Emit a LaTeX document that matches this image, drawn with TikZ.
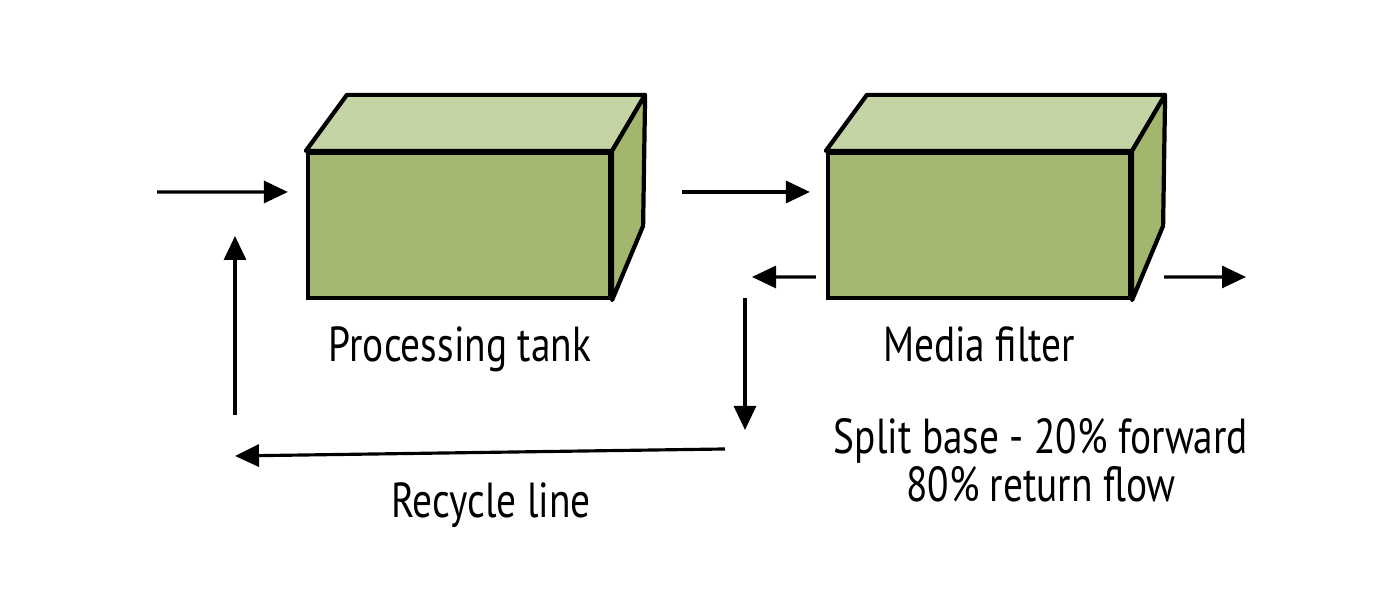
\documentclass[tikz,border=0pt]{standalone}
\usepackage{fontspec}
\setmainfont[FakeStretch=0.8]{PT Sans}
\usetikzlibrary{arrows.meta,positioning}
\definecolor{frontc}{HTML}{A4B872}
\definecolor{topc}{HTML}{C4D4A4}
\definecolor{sidec}{HTML}{A2B66E}
\tikzset{
  ar/.style={-{Triangle[length=2.4mm,width=2.2mm]},line width=0.9pt},
  tank/.style={draw,line width=1.2pt,fill=frontc,minimum width=3.02cm,minimum height=1.45cm,inner sep=0pt},
  face/.style={draw,line width=1.2pt,line join=round},
  lbl/.style={font=\fontsize{14}{12.4}\selectfont,inner sep=0pt,anchor=base}
}
\begin{document}
\begin{tikzpicture}
\useasboundingbox (0,0) rectangle (13.9,6.16);
% the two tanks, front face as node
\node[tank] (pt) at (4.59,3.905) {};
\node[tank] (mf) at (9.79,3.905) {};
\foreach \b in {pt,mf}{
  \draw[face,fill=topc] (\b.north west) -- ++(0.41,0.56) -- ([shift={(0.33,0.56)}]\b.north east) -- (\b.north east) -- cycle;
  \draw[face,fill=sidec] (\b.north east) -- ++(0.33,0.56) -- ++(-0.02,-1.31) -- (\b.south east) -- cycle;
}
% free ends of the lines
\coordinate (in) at (1.57,4.24);
\coordinate (ret) at (7.52,3.39);
\coordinate (out) at (12.46,3.39);
\coordinate (dn1) at (7.45,3.18); \coordinate (dn2) at (7.45,1.86);
\coordinate (rc1) at (7.25,1.67); \coordinate (rc2) at (2.35,1.60);
\coordinate (up1) at (2.35,2.01); \coordinate (up2) at (2.35,3.80);
\draw[ar] (in) -- ([shift={(-0.18,0.335)}]pt.west);
\draw[ar] ([shift={(0.70,0.335)}]pt.east) -- ([shift={(-0.16,0.335)}]mf.west);
\draw[ar] ([shift={(-0.10,-0.515)}]mf.west) -- (ret);
\draw[ar] ([shift={(0.32,-0.515)}]mf.east) -- (out);
\draw[ar] (dn1) -- (dn2);
\draw[ar] (rc1) -- (rc2);
\draw[ar] (up1) -- (up2);
% labels
\node[lbl] (ptl) at (4.60,2.54) {Processing tank};
\node[lbl] (mfl) at (9.79,2.54) {Media filter};
\node[lbl] (rcl) at (4.91,0.98) {Recycle line};
\node[lbl,align=center] (spl) at (10.41,1.14) {Split base - 20\% forward\\80\% return flow};
\end{tikzpicture}
\end{document}
